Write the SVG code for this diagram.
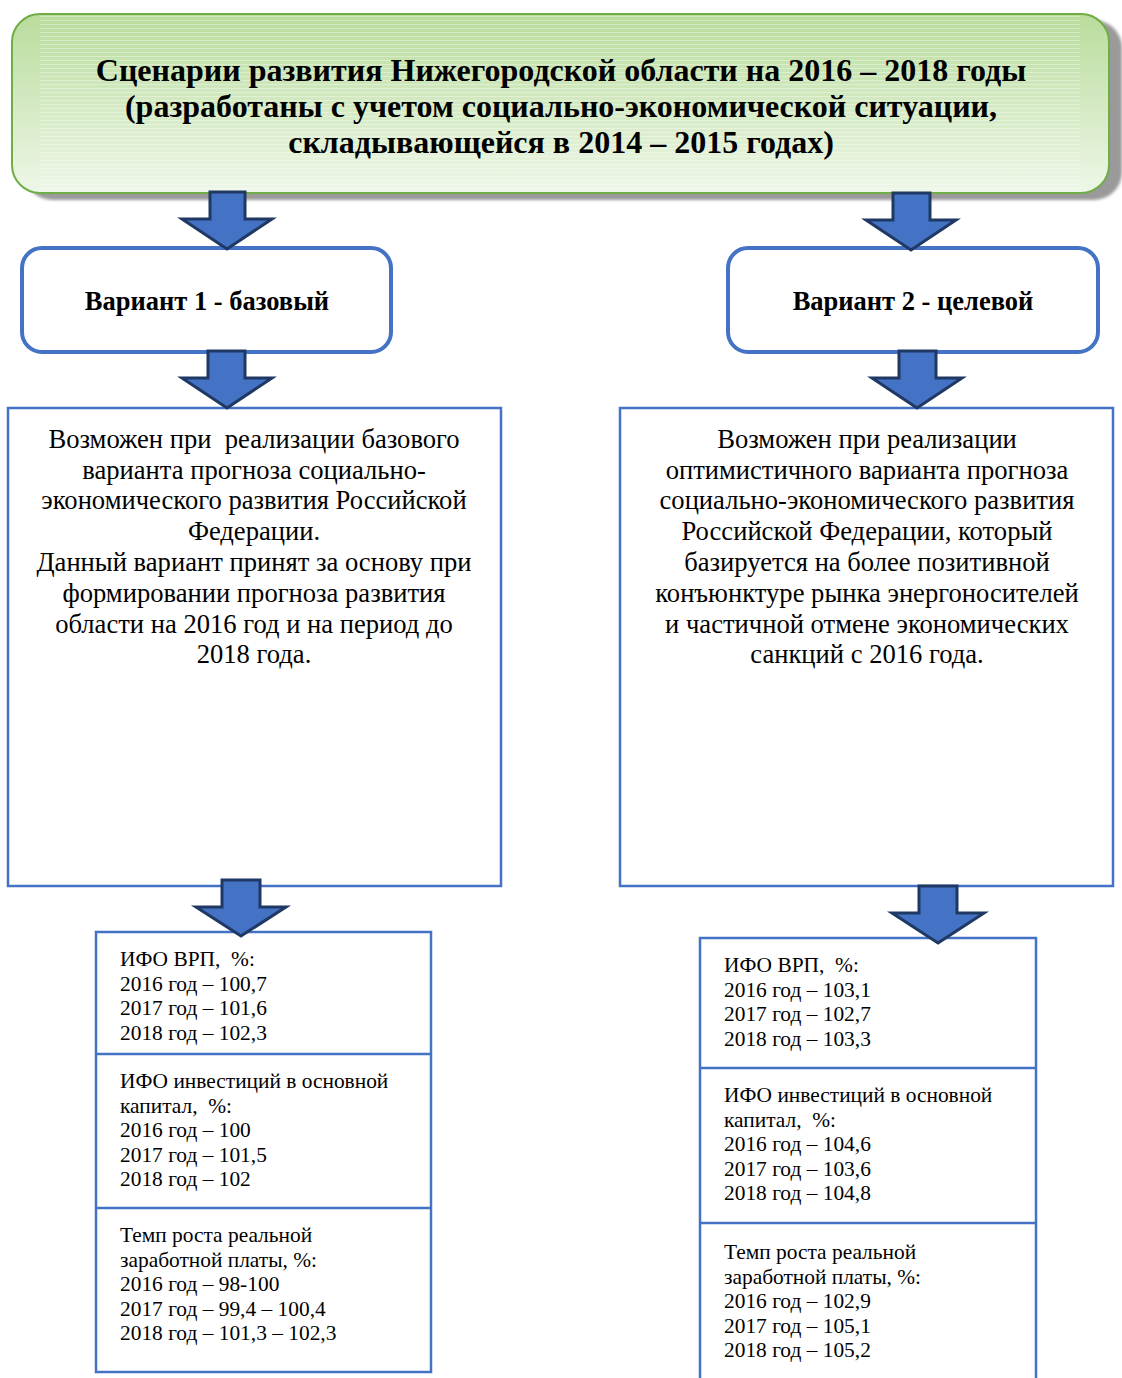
<svg xmlns="http://www.w3.org/2000/svg" width="1122" height="1378" viewBox="0 0 1122 1378">
<defs>
<linearGradient id="grn" x1="0" y1="0" x2="0" y2="1">
<stop offset="0" stop-color="#b9dc9c"/>
<stop offset="1" stop-color="#eef7e8"/>
</linearGradient>
<pattern id="stripes" width="8" height="4" patternUnits="userSpaceOnUse">
<rect x="0" y="0" width="8" height="1" fill="#ffffff" fill-opacity="0.35"/>
</pattern>
<filter id="blur" x="-5%" y="-5%" width="110%" height="110%"><feGaussianBlur stdDeviation="1.5"/></filter>
</defs>
<style>
.title{font-family:"Liberation Serif","Times New Roman",serif;font-weight:bold;font-size:32px;fill:#000;text-anchor:middle}
.var{font-family:"Liberation Serif","Times New Roman",serif;font-weight:bold;font-size:26.5px;fill:#000;text-anchor:middle}
.desc{font-family:"Liberation Serif","Times New Roman",serif;font-size:26.6px;fill:#000;text-anchor:middle;white-space:pre}
.data{font-family:"Liberation Serif","Times New Roman",serif;font-size:21.4px;fill:#000;white-space:pre}
.vbox{fill:#fff;stroke:#4472c4;stroke-width:4}
.box{fill:#fff;stroke:#4472c4;stroke-width:2.5}
.arr{fill:#4472c4;stroke:#203864;stroke-width:3;stroke-linejoin:miter}
</style>
<rect width="1122" height="1378" fill="#fff"/>
<g id="title">
<rect x="24" y="20" width="1098" height="180" rx="28" fill="#9a9a9a" filter="url(#blur)"/>
<rect x="12" y="14" width="1097" height="179" rx="28" fill="url(#grn)" stroke="#70ad47" stroke-width="2"/>
<rect x="40" y="16" width="1040" height="175" fill="url(#stripes)"/>
<text class="title" x="561" y="81">Сценарии развития Нижегородской области на 2016 – 2018 годы</text>
<text class="title" x="561" y="117">(разработаны с учетом социально-экономической ситуации,</text>
<text class="title" x="561" y="153">складывающейся в 2014 – 2015 годах)</text>
</g>
<g id="variant1">
<rect class="vbox" x="22" y="248" width="369" height="104" rx="20"/>
<text class="var" x="207" y="310">Вариант 1 - базовый</text>
</g>
<g id="variant2">
<rect class="vbox" x="728" y="248" width="370" height="104" rx="20"/>
<text class="var" x="913" y="310">Вариант 2 - целевой</text>
</g>
<g id="desc1">
<rect class="box" x="8" y="408" width="493" height="478"/>
<text class="desc" x="254" y="448" xml:space="preserve">Возможен при  реализации базового</text>
<text class="desc" x="254" y="479">варианта прогноза социально-</text>
<text class="desc" x="254" y="509">экономического развития Российской</text>
<text class="desc" x="254" y="540">Федерации.</text>
<text class="desc" x="254" y="571">Данный вариант принят за основу при</text>
<text class="desc" x="254" y="602">формировании прогноза развития</text>
<text class="desc" x="254" y="633">области на 2016 год и на период до</text>
<text class="desc" x="254" y="663">2018 года.</text>
</g>
<g id="desc2">
<rect class="box" x="620" y="408" width="493" height="478"/>
<text class="desc" x="867" y="448">Возможен при реализации</text>
<text class="desc" x="867" y="479">оптимистичного варианта прогноза</text>
<text class="desc" x="867" y="509">социально-экономического развития</text>
<text class="desc" x="867" y="540">Российской Федерации, который</text>
<text class="desc" x="867" y="571">базируется на более позитивной</text>
<text class="desc" x="867" y="602">конъюнктуре рынка энергоносителей</text>
<text class="desc" x="867" y="633">и частичной отмене экономических</text>
<text class="desc" x="867" y="663">санкций с 2016 года.</text>
</g>
<g id="table1">
<rect class="box" x="96" y="932" width="335" height="440"/>
<line class="box" x1="96" y1="1054" x2="431" y2="1054"/>
<line class="box" x1="96" y1="1208" x2="431" y2="1208"/>
<text class="data" x="120" y="966" xml:space="preserve">ИФО ВРП,  %:</text>
<text class="data" x="120" y="991">2016 год – 100,7</text>
<text class="data" x="120" y="1015">2017 год – 101,6</text>
<text class="data" x="120" y="1040">2018 год – 102,3</text>
<text class="data" x="120" y="1088">ИФО инвестиций в основной</text>
<text class="data" x="120" y="1113" xml:space="preserve">капитал,  %:</text>
<text class="data" x="120" y="1137">2016 год – 100</text>
<text class="data" x="120" y="1162">2017 год – 101,5</text>
<text class="data" x="120" y="1186">2018 год – 102</text>
<text class="data" x="120" y="1242">Темп роста реальной</text>
<text class="data" x="120" y="1267">заработной платы, %:</text>
<text class="data" x="120" y="1291">2016 год – 98-100</text>
<text class="data" x="120" y="1316">2017 год – 99,4 – 100,4</text>
<text class="data" x="120" y="1340">2018 год – 101,3 – 102,3</text>
</g>
<g id="table2">
<rect class="box" x="700" y="938" width="336" height="460"/>
<line class="box" x1="700" y1="1068" x2="1036" y2="1068"/>
<line class="box" x1="700" y1="1223" x2="1036" y2="1223"/>
<text class="data" x="724" y="972" xml:space="preserve">ИФО ВРП,  %:</text>
<text class="data" x="724" y="997">2016 год – 103,1</text>
<text class="data" x="724" y="1021">2017 год – 102,7</text>
<text class="data" x="724" y="1046">2018 год – 103,3</text>
<text class="data" x="724" y="1102">ИФО инвестиций в основной</text>
<text class="data" x="724" y="1127" xml:space="preserve">капитал,  %:</text>
<text class="data" x="724" y="1151">2016 год – 104,6</text>
<text class="data" x="724" y="1176">2017 год – 103,6</text>
<text class="data" x="724" y="1200">2018 год – 104,8</text>
<text class="data" x="724" y="1259">Темп роста реальной</text>
<text class="data" x="724" y="1284">заработной платы, %:</text>
<text class="data" x="724" y="1308">2016 год – 102,9</text>
<text class="data" x="724" y="1333">2017 год – 105,1</text>
<text class="data" x="724" y="1357">2018 год – 105,2</text>
</g>
<g id="connectors">
<path class="arr" d="M210,192 H245 V219 H272 L227,249 L182,219 H210 Z"/>
<path class="arr" d="M893,193 H930 V220 H956 L911,250 L866,220 H893 Z"/>
<path class="arr" d="M208,351 H245 V378 H272 L227,408 L182,378 H208 Z"/>
<path class="arr" d="M899,351 H936 V378 H962 L917,408 L872,378 H899 Z"/>
<path class="arr" d="M222,880 H260 V907 H286 L241,936 L196,907 H222 Z"/>
<path class="arr" d="M919,886 H957 V913 H984 L938,943 L892,913 H919 Z"/>
</g>
</svg>
